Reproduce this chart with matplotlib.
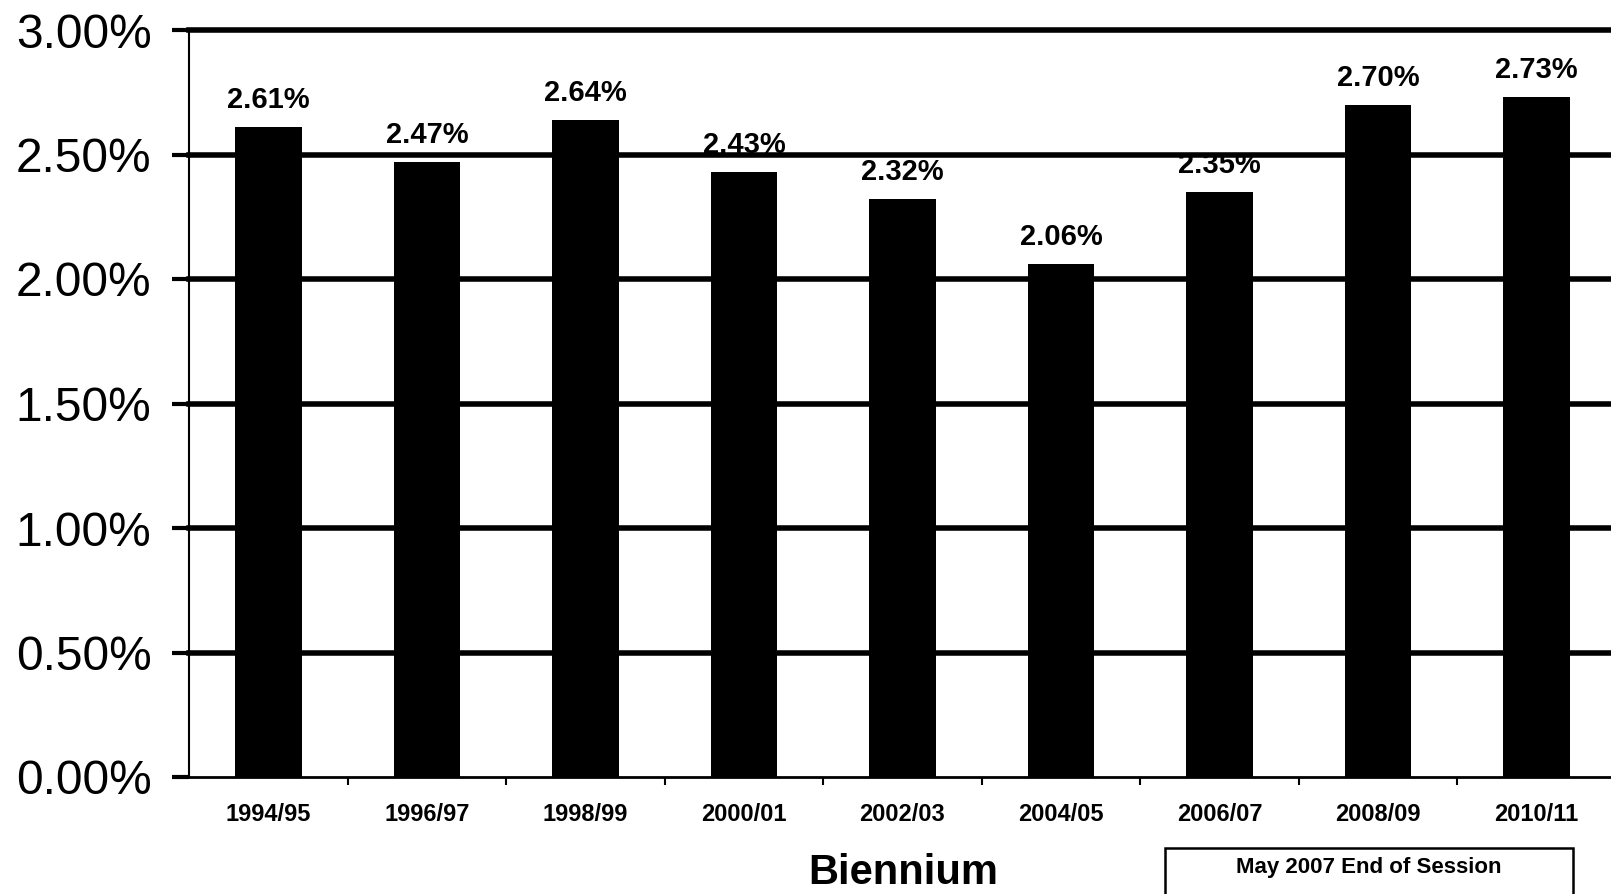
import matplotlib
matplotlib.use("Agg")
import matplotlib.pyplot as plt
import matplotlib.patches as patches
from matplotlib.ticker import FuncFormatter, FixedLocator

plt.rcParams['font.family'] = ['Liberation Sans', 'DejaVu Sans']

# data (percent)
biennia = ['1994/95', '1996/97', '1998/99', '2000/01', '2002/03',
           '2004/05', '2006/07', '2008/09', '2010/11']
share = [2.61, 2.47, 2.64, 2.43, 2.32, 2.06, 2.35, 2.70, 2.73]
yticks = [0.0, 0.5, 1.0, 1.5, 2.0, 2.5, 3.0]

W, H = 1611, 894
fig = plt.figure(figsize=(W / 100, H / 100), dpi=100)
fig.patch.set_facecolor('white')

# axes runs slightly past the right edge, like the scan
left, right, top, bottom = 189, 1616, 30, 777
ax = fig.add_axes([left / W, 1 - bottom / H, (right - left) / W, (bottom - top) / H])

x = list(range(len(biennia)))
ax.bar(x, share, width=0.42, color='black', zorder=3)

# value labels above each bar
for xi, v in zip(x, share):
    ax.annotate('%.2f%%' % v, xy=(xi, v), xytext=(0, 19), textcoords='offset pixels',
                ha='center', va='baseline', fontsize=21, fontweight='bold')

ax.set_xlim(-0.5, len(biennia) - 0.5)
ax.set_ylim(0, 3.0)

# horizontal grid lines
for yv in yticks[1:]:
    ax.axhline(yv, color='black', lw=4, zorder=2, clip_on=False)

ax.yaxis.set_major_locator(FixedLocator(yticks))
ax.yaxis.set_major_formatter(FuncFormatter(lambda v, p: '%.2f%%' % v))
ax.tick_params(axis='y', length=12, width=3, pad=15, labelsize=34.5, direction='out')

ax.set_xticks(x)
ax.set_xticklabels(biennia, fontsize=17, fontweight='bold')
ax.tick_params(axis='x', which='major', length=0, pad=19)
ax.set_xticks([i + 0.5 for i in x[:-1]], minor=True)
ax.tick_params(axis='x', which='minor', length=6, width=1.5, direction='out')

for s in ['top', 'right']:
    ax.spines[s].set_visible(False)
ax.spines['left'].set_linewidth(1.5)
ax.spines['bottom'].set_linewidth(2)

# axis title
fig.text(903 / W, 1 - 884 / H, 'Biennium', ha='center', va='baseline',
         fontsize=30, fontweight='bold')

# box with session note (cut off at the bottom of the scan)
box = patches.Rectangle((1165 / W, -0.05), (1573 - 1165) / W, 0.05 + (H - 848) / H,
                        transform=fig.transFigure, fill=False, edgecolor='black',
                        lw=1.8, clip_on=False)
fig.add_artist(box)
fig.text(1369 / W, 1 - 868 / H, 'May 2007 End of Session', ha='center', va='center',
         fontsize=16, fontweight='bold')

fig.savefig('out.png', dpi=100)
